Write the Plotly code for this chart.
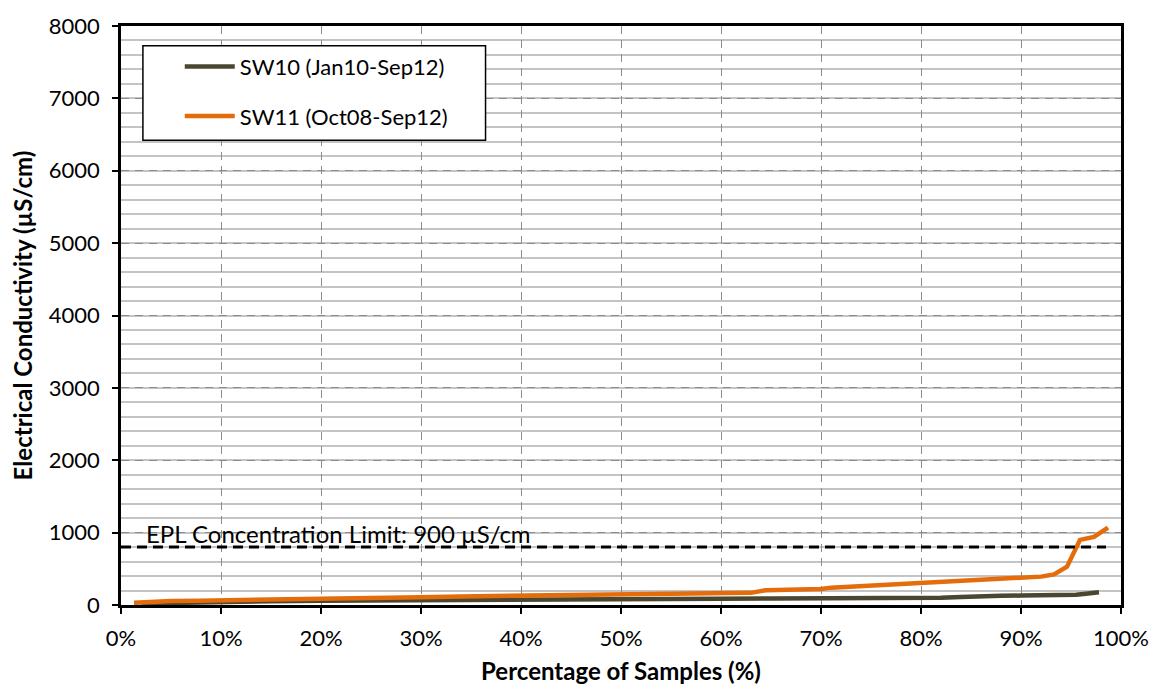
import plotly.graph_objects as go

# ---------------- data ----------------
sw10_name = "SW10 (Jan10-Sep12)"
sw10_pct = [2.0, 5.0, 10.0, 15.0, 20.0, 25.0, 30.0, 35.0, 40.0, 45.0, 50.0, 55.0, 60.0, 65.0,
            70.0, 75.0, 80.0, 82.0, 84.0, 86.0, 88.0, 90.0, 92.0, 94.0, 95.5, 96.5, 97.8]
sw10_ec = [20, 30, 45, 52, 60, 65, 70, 75, 80, 82, 85, 86, 88, 89,
           90, 92, 95, 100, 112, 125, 127, 130, 132, 136, 142, 155, 175]

sw11_name = "SW11 (Oct08-Sep12)"
sw11_pct = [1.3, 3.0, 5.0, 8.0, 10.0, 13.0, 16.0, 20.0, 25.0, 30.0, 34.0, 40.0, 45.0, 50.0,
            55.0, 60.0, 63.0, 64.5, 66.0, 68.0, 70.0, 71.0, 72.5, 74.0, 76.0, 78.0, 79.7,
            82.0, 84.0, 86.0, 88.0, 90.0, 92.0, 93.3, 94.6, 95.9, 97.3, 98.7]
sw11_ec = [30, 45, 55, 60, 63, 68, 75, 88, 98, 108, 118, 126, 131, 138,
           146, 156, 168, 205, 208, 213, 220, 240, 250, 270, 282, 292, 312,
           318, 325, 345, 360, 378, 392, 422, 530, 900, 940, 1070]

epl_label = "EPL Concentration Limit: 900 µS/cm"
epl_pct = [0.0, 98.5]
epl_ec = [800, 800]

x_tick_vals = [0, 10, 20, 30, 40, 50, 60, 70, 80, 90, 100]
x_tick_text = ["0%", "10%", "20%", "30%", "40%", "50%", "60%", "70%", "80%", "90%", "100%"]
y_tick_vals = [0, 1000, 2000, 3000, 4000, 5000, 6000, 7000, 8000]

x_title = "Percentage of Samples (%)"
y_title = "Electrical Conductivity (µS/cm)"

# ---------------- figure ----------------
FONT = "Lato"
fig = go.Figure()

fig.add_trace(go.Scatter(x=sw10_pct, y=sw10_ec, mode="lines", name=sw10_name,
                         line=dict(color="#4B4630", width=4.5), legendgroup="a"))
fig.add_trace(go.Scatter(x=sw11_pct, y=sw11_ec, mode="lines", name=sw11_name,
                         line=dict(color="#E46C0A", width=4.5), legendgroup="b"))
fig.add_trace(go.Scatter(x=epl_pct, y=epl_ec, mode="lines", showlegend=False,
                         line=dict(color="black", width=3, dash="10px,6px")))

fig.add_annotation(x=2.3, y=985, xref="x", yref="y", text=epl_label, showarrow=False,
                   xanchor="left", yanchor="middle",
                   font=dict(family=FONT, size=24, color="black"))

# legend frame
fig.add_shape(type="rect", xref="paper", yref="paper",
              x0=(143 - 121) / 1004, x1=(487 - 121) / 1004,
              y0=(610 - 138) / 588, y1=(610 - 42) / 588,
              line=dict(color="black", width=1.5), fillcolor="white", layer="above")

fig.update_layout(
    width=1161, height=694,
    margin=dict(l=121, r=36, t=22, b=84),
    paper_bgcolor="white", plot_bgcolor="white",
    font=dict(family=FONT, size=22, color="black"),
    showlegend=True,
    legend=dict(x=(180 - 121) / 1004, y=(610 - 42) / 588, xanchor="left", yanchor="top",
                bgcolor="rgba(0,0,0,0)", borderwidth=0, traceorder="grouped",
                tracegroupgap=18, itemwidth=50,
                font=dict(family=FONT, size=22, color="black")),
)

fig.update_xaxes(range=[0, 100], tickvals=x_tick_vals, ticktext=x_tick_text,
                 showline=True, linecolor="black", linewidth=2.5, mirror=True,
                 ticks="outside", ticklen=6, tickcolor="black", tickwidth=1.5,
                 showgrid=True, gridcolor="#8C8C8C", gridwidth=1.2, griddash="8px,6px",
                 zeroline=False, ticklabelstandoff=6,
                 tickfont=dict(family=FONT, size=22, color="black"),
                 title=dict(text="<b>" + x_title + "</b>", standoff=14,
                            font=dict(family=FONT, size=24, color="black")))
fig.update_yaxes(range=[0, 8000], tickvals=y_tick_vals,
                 showline=True, linecolor="black", linewidth=2.5, mirror=True,
                 ticks="outside", ticklen=6, tickcolor="black", tickwidth=1.5,
                 showgrid=True, gridcolor="#8C8C8C", gridwidth=1.2, griddash="8px,6px",
                 zeroline=False, ticklabelstandoff=8,
                 tickfont=dict(family=FONT, size=22, color="black"),
                 minor=dict(dtick=200, showgrid=True, gridcolor="#C4C4C4", gridwidth=1.8,
                            griddash="solid", ticks=""),
                 title=dict(text="<b>" + y_title + "</b>", standoff=10,
                            font=dict(family=FONT, size=24, color="black")))

fig.write_html("out.html")
